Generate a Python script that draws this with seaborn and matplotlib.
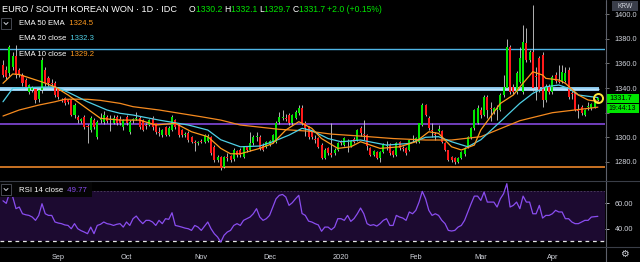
import numpy as np
import pandas as pd
import matplotlib
matplotlib.use("Agg")
import matplotlib.pyplot as plt
import seaborn as sns
from matplotlib.lines import Line2D
from matplotlib.patches import Rectangle

# ---------------- data ----------------
start_date = "2019-08-08"

open_ = [1358.8, 1355, 1352, 1357, 1366, 1354.7, 1350.6, 1346.6, 1337, 1338.4,
         1339, 1331, 1338.4, 1354.7, 1348, 1344, 1344, 1340, 1330.5, 1331.9,
         1330, 1330.3, 1318, 1316.5, 1313, 1316.5, 1309, 1305.9, 1314, 1300.2,
         1314, 1312.4, 1316.5, 1314, 1312, 1316.5, 1315, 1308, 1316.5, 1304.3,
         1314, 1315, 1315.7, 1314, 1310, 1310, 1316, 1311.6, 1304, 1301.8,
         1308.3, 1302, 1306, 1314, 1310, 1305.9, 1302, 1303.5, 1300.2, 1296,
         1295, 1297, 1296, 1297, 1300.2, 1292, 1281.5, 1284, 1276, 1284,
         1284.5, 1282, 1289, 1289.7, 1284, 1292, 1290, 1295.3, 1300, 1300.2,
         1293, 1292, 1294, 1296.2, 1296.2, 1312.4, 1316, 1316, 1318.1, 1311.6,
         1316, 1319.7, 1323.8, 1311.6, 1308.3, 1304.3, 1299, 1299.4, 1293.7, 1283.1,
         1291.3, 1287, 1287.2, 1289.7, 1296, 1293.7, 1296, 1293, 1299, 1297.8,
         1307.5, 1303, 1302, 1291.3, 1285.6, 1288, 1283.1, 1288, 1293, 1293.7,
         1289, 1285.6, 1296.2, 1291, 1291.3, 1289.7, 1299, 1296, 1296.2, 1310,
         1326.2, 1315.7, 1306, 1303, 1305, 1305.1, 1295.3, 1289.7, 1284, 1283,
         1280, 1283.1, 1286.4, 1292.1, 1300.2, 1307.5, 1312, 1322.2, 1318, 1332.7,
         1324, 1320.5, 1322, 1322.2, 1334.4, 1340.1, 1373.4, 1341, 1336.8, 1345,
         1336.8, 1377, 1363, 1369.3, 1350, 1364.4, 1366.9, 1330.3, 1341, 1336.8,
         1351, 1346, 1345.8, 1346, 1354.7, 1336, 1336, 1322, 1324.6, 1318.1,
         1325, 1324, 1325, 1330.2]
high = [1363, 1358, 1375, 1369, 1375, 1356, 1352, 1348, 1343, 1342,
        1340, 1340, 1365, 1357, 1350, 1347, 1346, 1341, 1332, 1333,
        1331, 1331, 1328, 1318, 1316, 1318, 1311, 1317, 1316, 1314,
        1320, 1321, 1318, 1318, 1318, 1318, 1317, 1315, 1318, 1314,
        1316, 1320.5, 1317, 1315, 1312, 1315, 1317, 1312, 1308, 1307,
        1309, 1309, 1318, 1315, 1311, 1307, 1304, 1305, 1301, 1298,
        1297, 1299, 1303, 1303, 1301, 1294, 1286, 1285, 1285, 1287,
        1286, 1291, 1290, 1291, 1293, 1293, 1304, 1302, 1304, 1302,
        1295, 1297, 1298, 1303, 1313, 1320.5, 1322, 1319, 1320, 1319,
        1322, 1326, 1326, 1313, 1309, 1305, 1302, 1300, 1295, 1291,
        1292, 1311.6, 1291, 1296, 1298, 1300, 1299, 1298, 1300, 1307,
        1309, 1314, 1303, 1292, 1290, 1289, 1289, 1295, 1297, 1295,
        1290, 1296, 1297, 1293, 1292, 1299, 1302, 1300, 1312, 1328,
        1327, 1317, 1312, 1304, 1310, 1306, 1296, 1290, 1285, 1284,
        1284, 1289, 1292, 1301, 1308, 1323, 1326, 1325, 1334, 1334,
        1329, 1325, 1326, 1336, 1350.6, 1380.3, 1375, 1343, 1354, 1373.4,
        1391, 1389, 1371, 1407.5, 1357, 1366, 1369, 1343, 1343, 1351,
        1353, 1358.8, 1359, 1357, 1357, 1338, 1337, 1327, 1326, 1323,
        1329, 1328, 1331.5, 1332.1]
low = [1349, 1347, 1350, 1355, 1348, 1349, 1342, 1339, 1335, 1337,
       1328, 1329, 1336, 1342, 1342, 1342, 1333, 1331, 1329, 1326,
       1327, 1317, 1316, 1312, 1312, 1307, 1295.3, 1304, 1307, 1299,
       1312, 1311, 1312, 1305, 1311, 1310, 1310, 1306, 1310, 1303,
       1312, 1314, 1307, 1305, 1307, 1309, 1306, 1303, 1301, 1300,
       1301, 1301, 1305, 1307, 1300, 1300, 1300, 1296, 1295, 1289,
       1294, 1295, 1295, 1296, 1286, 1280, 1280, 1273.5, 1275, 1281,
       1280, 1281, 1284, 1284, 1283, 1288, 1289, 1294, 1297, 1290,
       1289, 1291, 1293, 1295, 1295, 1311, 1314, 1313, 1310, 1310,
       1315, 1318, 1310, 1301, 1299, 1299, 1295, 1291, 1282, 1282,
       1286, 1284, 1286, 1289, 1294, 1293, 1288, 1292, 1295, 1297,
       1301, 1298, 1290, 1285, 1285, 1282, 1280, 1287, 1290, 1286,
       1284, 1285, 1290, 1289, 1286, 1289, 1296, 1295, 1295, 1309,
       1317, 1306, 1300, 1298, 1304, 1295, 1289, 1281, 1280, 1278,
       1279, 1282, 1285, 1291, 1299, 1306, 1311, 1316, 1317, 1315.7,
       1313.2, 1319, 1314, 1321, 1333, 1339, 1335, 1335, 1335, 1344,
       1335, 1361, 1361, 1338, 1330, 1337, 1325, 1329, 1335, 1335,
       1344, 1344, 1344, 1345, 1331, 1331, 1321, 1316, 1318, 1317,
       1322, 1322, 1324, 1329.7]
close = [1350.6, 1349, 1373.4, 1366, 1351, 1350.6, 1344.1, 1341, 1342.5, 1340.5,
         1330.3, 1338.4, 1362.8, 1344.1, 1344, 1343.5, 1334.4, 1332.7, 1330, 1327.9,
         1329, 1318.1, 1326.2, 1314, 1315, 1308.3, 1308.5, 1315.7, 1308.3, 1312.4,
         1315, 1318.1, 1313.5, 1314.5, 1316, 1312, 1312, 1314, 1312, 1312.4,
         1314.8, 1315.5, 1308.3, 1306, 1309, 1314, 1308.3, 1304.3, 1303.5, 1305.9,
         1302, 1307.5, 1316.5, 1308.3, 1302, 1301.8, 1302.5, 1297.8, 1296.2, 1295.5,
         1296, 1296.5, 1301.8, 1301, 1287.2, 1281.5, 1284, 1275, 1284, 1283,
         1281.5, 1289.7, 1285.6, 1285.6, 1292.1, 1289.7, 1295, 1300.2, 1300.5, 1291.3,
         1290, 1296, 1297, 1301.8, 1311.6, 1316.5, 1316.5, 1315, 1311.6, 1318.1,
         1320.5, 1323.8, 1311.6, 1307.5, 1300.2, 1300.2, 1298.5, 1292.1, 1283.1, 1289.7,
         1287.2, 1285.6, 1289.7, 1295.3, 1295.5, 1299.4, 1296.5, 1297, 1296, 1305.9,
         1303.5, 1302.5, 1293, 1285.6, 1288.8, 1283.1, 1288, 1293.7, 1293.5, 1287.2,
         1285.6, 1295.3, 1291.3, 1290.5, 1287.2, 1297.8, 1298.5, 1299.4, 1311.6, 1326.2,
         1318.1, 1307.5, 1305.5, 1302.5, 1307, 1296.2, 1289.7, 1281.5, 1281.5, 1279.9,
         1283, 1288, 1291.3, 1300.2, 1307.5, 1322.2, 1323.8, 1318.1, 1332.7, 1322.2,
         1323.5, 1323.8, 1322.5, 1334.4, 1340.9, 1373.4, 1336.8, 1336.8, 1352.3, 1364.4,
         1377.5, 1363, 1369, 1340.1, 1349.5, 1338.4, 1330.3, 1341, 1337, 1349,
         1345.8, 1345.5, 1353, 1352, 1332.7, 1335, 1322.2, 1321.5, 1319.7, 1322.2,
         1325.5, 1327, 1330.2, 1331.7]

rsi = [62, 60, 68, 65, 55.8, 57.1, 51.8, 51, 50.5, 49.2,
       46.6, 50.5, 59.7, 51.8, 50.5, 50.5, 45.3, 44.5, 44, 43,
       42.6, 40, 44, 40, 38.5, 37.4, 36.1, 41.3, 36.1, 42.6,
       43.5, 45.3, 44, 43.5, 42.6, 43.5, 44, 41.3, 45.3, 42.6,
       47.9, 50, 46.6, 44, 46.6, 46.6, 45.3, 42.6, 46.6, 44,
       47.9, 47.4, 52.6, 42.6, 42, 41.3, 40.5, 40, 38.7, 42.6,
       41.3, 38.7, 42, 45.3, 40, 36.1, 33.5, 29.5, 34.8, 37.4,
       38.7, 42.6, 44, 42.6, 46.6, 47.9, 49.2, 51.8, 55.8, 49.2,
       46.6, 47.9, 50.5, 57.1, 63.6, 66.3, 67, 65, 58.4, 60.5,
       63.6, 66.3, 52, 50.5, 46, 45.3, 44, 43, 38, 41.3,
       41.3, 39.2, 41.3, 47.9, 47.9, 46.6, 50.5, 45.8, 48, 51.8,
       56.3, 51.8, 44, 42.6, 43.2, 42.1, 44, 46.6, 47.9, 42.6,
       42.6, 50.5, 49.2, 48.4, 46.6, 53.2, 51.8, 54.5, 61, 69.4,
       63.6, 54.5, 50.5, 51.8, 50.5, 46.6, 44, 38.7, 38.2, 38.7,
       41.3, 42.6, 46.6, 53.2, 59.7, 65.7, 65.7, 62.3, 68.9, 61,
       61, 61, 57.1, 63.6, 67.6, 75.5, 57.1, 58.4, 61, 55.8,
       65.7, 61, 61, 51.8, 51.8, 58.4, 48.4, 50.5, 50.5, 51.8,
       54.5, 53.2, 53.2, 47.9, 47.9, 45.3, 44, 44, 45.3, 46.6,
       46.6, 49.2, 49.5, 49.77]

# moving-average readings: bar number -> value
ema50_bar = [0, 5, 11, 16, 19, 22, 26, 30, 36, 40, 48, 61, 67, 73, 85, 94, 101, 110,
             120, 130, 138, 147, 153, 159, 169, 180, 183]
ema50_val = [1317.3, 1322.2, 1326.2, 1328.9, 1330.9, 1331, 1330.9, 1330, 1327.6, 1324.9,
             1322.2, 1316.7, 1314, 1310, 1306.5, 1305, 1302.6, 1301, 1299, 1297.8,
             1297.8, 1300.5, 1307, 1313.5, 1320, 1323.5, 1324.5]
ema20_bar = [0, 3, 8, 16, 20, 26, 32, 36, 40, 48, 57, 63, 67, 73, 79, 83, 88, 92, 95,
             100, 104, 110, 118, 125, 130, 134, 138, 143, 147, 153, 159, 163, 167, 171,
             174, 177, 183]
ema20_val = [1328.9, 1339.8, 1340.5, 1341, 1336.7, 1328.9, 1322.2, 1319.5, 1318.1, 1314,
             1310, 1305.9, 1298, 1292.3, 1292.9, 1296.4, 1301.8, 1307.3, 1305.5, 1299,
             1296.4, 1297.8, 1293.7, 1295, 1300, 1300.5, 1296.4, 1292.3, 1298, 1312.7,
             1327.6, 1335.7, 1341.1, 1342.5, 1339.8, 1334.4, 1332.3]
ema10_bar = [0, 3, 5, 12, 16, 20, 25, 30, 36, 42, 47, 53, 58, 63, 67, 70, 73, 79, 83,
             87, 91, 95, 98, 103, 107, 110, 116, 122, 127, 131, 134, 138, 141, 145, 147,
             153, 157, 160, 163, 166, 167, 171, 173, 177, 180, 183]
ema10_val = [1343.9, 1351.5, 1351, 1345, 1341, 1334.4, 1324.9, 1315.4, 1314, 1314,
             1310, 1311.4, 1304.5, 1300.5, 1291, 1286.6, 1286.6, 1291, 1295, 1305.9,
             1312.7, 1307.3, 1299, 1291, 1292.3, 1296.4, 1291, 1292.3, 1296.4, 1304.5,
             1303.2, 1292.3, 1289.7, 1293.7, 1306, 1327.5, 1334.4, 1344, 1353.3, 1350.6,
             1347.9, 1346.6, 1343.9, 1334.4, 1330.3, 1329.2]

levels = [1371.8, 1339.5, 1311.0, 1275.5]
price_ticks = [1280, 1300, 1320, 1340, 1360, 1380, 1400]
hidden_tick = 1320
rsi_ticks = [40, 60]
title = "EURO / SOUTH KOREAN WON · 1D · IDC"
ohlc_last = [("O", "1330.2"), ("H", "1332.1"), ("L", "1329.7"), ("C", "1331.7")]
change_text = "+2.0 (+0.15%)"
countdown = "19:44:13"

# ---------------- styling ----------------
sns.set_theme(style="dark", rc={"axes.facecolor": "black", "figure.facecolor": "black",
                                "axes.grid": False})
plt.rcParams["font.family"] = ["Liberation Sans", "DejaVu Sans"]

W, H = 640, 262
GREEN = "#00e600"
RED = "#ff1a1a"
TXT = "#d1d4dc"
GRID = "#3a3e48"

fig = plt.figure(figsize=(W / 100, H / 100), dpi=100, facecolor="black")
ax = fig.add_axes([0, 1 - 180 / H, 605 / W, 180 / H])
ax2 = fig.add_axes([0, 1 - 246 / H, 605 / W, 65 / H])
for a in (ax, ax2):
    a.set_facecolor("black")
    for s in a.spines.values():
        s.set_visible(False)

n = len(close)
dates = pd.bdate_range(start_date, periods=n)
xb = np.arange(n)
o = np.array(open_); c = np.array(close); h = np.array(high); l = np.array(low)

XL = (-0.92, 185.2)
ax.set_xlim(*XL); ax.set_ylim(1265.3, 1411.6)
ax2.set_xlim(*XL); ax2.set_ylim(26.4, 77.6)

# level lines
ax.hlines(levels[0], -5, 200, color="#4fb6e6", lw=1.0, zorder=1)
ax.hlines(levels[1], -5, 183.4, color="#8fcdf2", lw=2.8, zorder=1)
ax.hlines(levels[1], -5, 183.4, color="#b8e2fb", lw=1.0, zorder=1)
ax.hlines(levels[2], -5, 200, color="#8f4ff0", lw=1.1, zorder=1)
ax.hlines(levels[3], -5, 200, color="#d97a26", lw=1.3, zorder=1)

# candles
up = c >= o
body_col = np.where(up, GREEN, RED)
body_h = c - o
body_h = np.where(np.abs(body_h) < 0.8, np.where(up, 0.8, -0.8), body_h)
ax.vlines(xb, l, h, color="#cfcfcf", lw=0.6, zorder=2)
ax.bar(xb, body_h, bottom=o, width=0.62, color=body_col, linewidth=0, zorder=3)

# moving averages
sns.lineplot(x=ema50_bar, y=ema50_val, ax=ax, color="#f58a1f", lw=0.9, zorder=4)
sns.lineplot(x=ema20_bar, y=ema20_val, ax=ax, color="#4fd0e6", lw=0.9, zorder=4)
sns.lineplot(x=ema10_bar, y=ema10_val, ax=ax, color="#ff9a1f", lw=0.9, zorder=4)

# highlight circle on the last bar
ax.plot([xb[-1]], [c[-1]], "o", ms=6.5, mfc="none", mec="#ffe83b", mew=1.4, zorder=6)

ax.yaxis.tick_right()
ax.set_yticks(price_ticks)
ax.set_yticklabels(["" if v == hidden_tick else f"{v:.1f}" for v in price_ticks])
ax.tick_params(axis="y", colors=TXT, labelsize=5.3, length=3, width=0.6, pad=4,
               direction="out", labelcolor=TXT)
ax.tick_params(axis="y", which="major", color="#888888")
ax.set_xticks([])
ax.set_xlabel(""); ax.set_ylabel("")

# RSI pane
ax2.axhspan(30, 70, color="#1c0a30", lw=0, zorder=0)
ax2.axhline(70, color="#4e3f60", lw=0.6, ls=(0, (2, 2)), zorder=1)
ax2.axhline(30, color="#e6e6e6", lw=0.9, ls=(0, (3, 3)), zorder=1)
sns.lineplot(x=xb, y=rsi, ax=ax2, color="#8a4df0", lw=0.9, zorder=3)
ax2.yaxis.tick_right()
ax2.set_yticks(rsi_ticks)
ax2.set_yticklabels([f"{v:.2f}" for v in rsi_ticks])
ax2.tick_params(axis="y", colors=TXT, labelsize=5.3, length=3, width=0.6, pad=4,
                labelcolor=TXT)
months = dates.to_period("M")
mstarts = [i for i in range(1, n) if months[i] != months[i - 1]]
mlabels = ["2020" if dates[i].month == 1 else dates[i].strftime("%b") for i in mstarts]
ax2.set_xticks(mstarts)
ax2.set_xticklabels(mlabels)
ax2.tick_params(axis="x", colors=TXT, labelsize=5.3, length=0, pad=6, labelcolor=TXT)
ax2.set_xlabel(""); ax2.set_ylabel("")


# ---------------- frame lines ----------------
def fl(x0, y0, x1, y1, col, lw):
    fig.add_artist(Line2D([x0 / W, x1 / W], [1 - y0 / H, 1 - y1 / H],
                          transform=fig.transFigure, color=col, lw=lw))


fl(605.5, 0, 605.5, H, "#5d606b", 0.8)
fl(0, 180.5, W, 180.5, GRID, 0.8)
fl(0, 246.5, W, 246.5, GRID, 0.8)


def frect(x, y, w, hh, fc, ec="none", lw=0):
    fig.add_artist(Rectangle((x / W, 1 - (y + hh) / H), w / W, hh / H,
                             transform=fig.transFigure, fc=fc, ec=ec, lw=lw))


renderer = fig.canvas.get_renderer()


def seq(x, y, parts, size, gap=0.0, weight="normal"):
    for s, col in parts:
        t = fig.text(x / W, 1 - y / H, s, color=col, fontsize=size, va="center",
                     ha="left", fontweight=weight)
        bb = t.get_window_extent(renderer=renderer)
        x = bb.x1 + gap


def chevron(x, y):
    frect(x, y, 10, 11, "black", "#50535e", 0.6)
    fig.add_artist(Line2D([(x + 3) / W, (x + 5) / W, (x + 7) / W],
                          [1 - (y + 4.5) / H, 1 - (y + 6.5) / H, 1 - (y + 4.5) / H],
                          transform=fig.transFigure, color="#d1d4dc", lw=0.7))


# header
seq(2, 9, [(title, "white")], 6.6)
parts = []
for k, v in ohlc_last:
    parts.append((k, "white"))
    parts.append((v + " ", GREEN))
parts.append((change_text, GREEN))
seq(189, 9.5, parts, 6.2)

chevron(1, 18)
seq(19, 23.5, [("EMA 50 EMA", "white"), ("  1324.5", "#ff9a1f")], 5.6)
seq(19, 38.5, [("EMA 20 close", "white"), ("  1332.3", "#4fd0e6")], 5.6)
seq(19, 54, [("EMA 10 close", "white"), ("  1329.2", "#ff9a1f")], 5.6)

frect(0, 182, 92, 15, "#050505")
chevron(1, 184)
seq(19, 190.5, [("RSI 14 close", "white"), ("  49.77", "#8a4df0")], 5.6)

# right-axis boxes
frect(612, 1, 26, 10, "#3a3e4a")
fig.text(625 / W, 1 - 6 / H, "KRW", color=TXT, fontsize=4.8, ha="center", va="center")
ypx = ax.transData.transform((0, c[-1]))[1]
ytop = H - ypx
frect(605.5, ytop - 4.7, 33, 9.4, GREEN)
fig.text(609 / W, 1 - ytop / H, f"{c[-1]:.1f}", color="black", fontsize=5.3,
         ha="left", va="center")
frect(605.5, ytop + 5.7, 33, 9.4, GREEN)
fig.text(608 / W, 1 - (ytop + 10.4) / H, countdown, color="black", fontsize=5.0,
         ha="left", va="center")
fig.text(624 / W, 1 - 254 / H, "\u2699", color=TXT, fontsize=7, ha="center",
         va="center", family=["DejaVu Sans"])

fig.savefig("out.png", dpi=100, facecolor="black")
